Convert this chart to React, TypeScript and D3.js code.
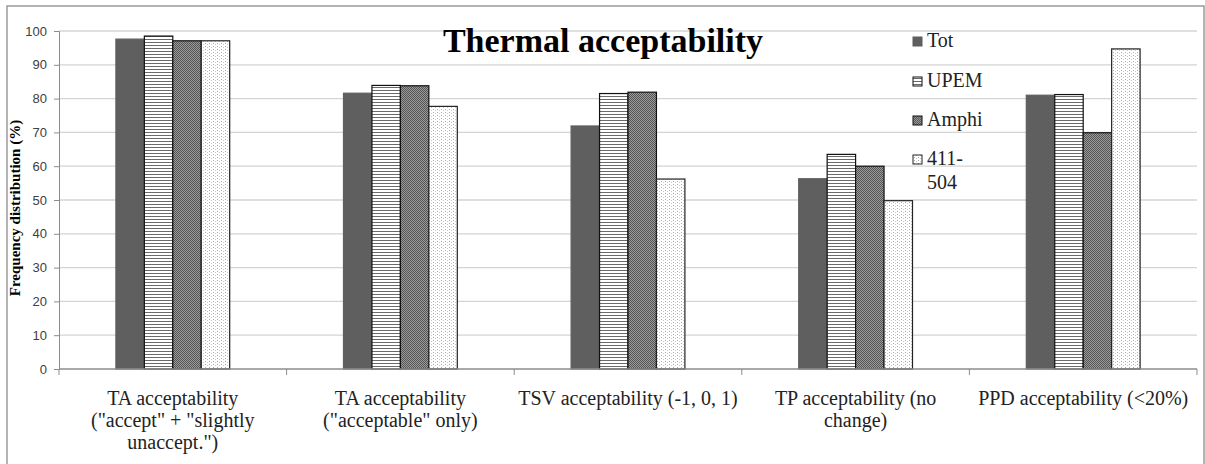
import * as d3 from "d3";
import { useEffect, useRef } from "react";

const categories = ["TA1", "TA2", "TSV", "TP", "PPD"];
const categoryLabels = [
  ["TA acceptability", '("accept" + "slightly', 'unaccept.")'],
  ["TA acceptability", '("acceptable" only)'],
  ["TSV acceptability (-1, 0, 1)"],
  ["TP acceptability (no", "change)"],
  ["PPD acceptability (<20%)"],
];
const seriesNames = ["Tot", "UPEM", "Amphi", "411-504"];
const legendLabels = [["Tot"], ["UPEM"], ["Amphi"], ["411-", "504"]];
const totValues = [97.6, 81.6, 71.9, 56.3, 81.0];
const upemValues = [98.5, 83.9, 81.5, 63.5, 81.2];
const amphiValues = [97.1, 83.8, 81.9, 60.0, 69.9];
const roomValues = [97.1, 77.7, 56.2, 49.8, 94.7];
const yTicks = [0, 10, 20, 30, 40, 50, 60, 70, 80, 90, 100];

const W = 1205;
const H = 464;
const SERIF = "'Times New Roman', 'Liberation Serif', 'DejaVu Serif', serif";

export default function App() {
  const svgRef = useRef<SVGSVGElement>(null);

  useEffect(() => {
    if (!svgRef.current) return;
    d3.select(svgRef.current).selectAll("*").remove();
    const svg = d3.select(svgRef.current);

    const left = 59;
    const right = 1197;
    const top = 31;
    const bottom = 369;

    const allSeries = [totValues, upemValues, amphiValues, roomValues];

    // Patterns for bar fills
    const defs = svg.append("defs");
    const pStripe = defs
      .append("pattern")
      .attr("id", "p-stripe")
      .attr("patternUnits", "userSpaceOnUse")
      .attr("width", 4)
      .attr("height", 3);
    pStripe.append("rect").attr("width", 4).attr("height", 3).attr("fill", "#fff");
    pStripe.append("rect").attr("width", 4).attr("height", 1).attr("fill", "#6a6a6a");

    const pCheck = defs
      .append("pattern")
      .attr("id", "p-check")
      .attr("patternUnits", "userSpaceOnUse")
      .attr("width", 2)
      .attr("height", 2);
    pCheck.append("rect").attr("width", 2).attr("height", 2).attr("fill", "#9a9a9a");
    pCheck.append("rect").attr("width", 1).attr("height", 1).attr("fill", "#555");
    pCheck.append("rect").attr("x", 1).attr("y", 1).attr("width", 1).attr("height", 1).attr("fill", "#555");

    const pDot = defs
      .append("pattern")
      .attr("id", "p-dot")
      .attr("patternUnits", "userSpaceOnUse")
      .attr("width", 4)
      .attr("height", 3);
    pDot.append("rect").attr("width", 4).attr("height", 3).attr("fill", "#fff");
    pDot.append("rect").attr("x", 1).attr("y", 1).attr("width", 1).attr("height", 1).attr("fill", "#aaa");
    pDot.append("rect").attr("x", 3).attr("y", 2).attr("width", 1).attr("height", 1).attr("fill", "#c8c8c8");

    const fills = ["#5f5f5f", "url(#p-stripe)", "url(#p-check)", "url(#p-dot)"];
    const strokes = ["#5f5f5f", "#111", "#111", "#222"];

    // outer frame
    svg
      .append("rect")
      .attr("x", 7)
      .attr("y", 6)
      .attr("width", 1197)
      .attr("height", 470)
      .attr("fill", "#fff")
      .attr("stroke", "#8c8c8c")
      .attr("stroke-width", 1.3);

    const x0 = d3.scaleBand().domain(categories).range([left, right]).paddingInner(0).paddingOuter(0);
    const x1 = d3
      .scaleBand()
      .domain(seriesNames)
      .range([x0.bandwidth() * 0.25, x0.bandwidth() * 0.75]);
    const y = d3.scaleLinear().domain([0, 100]).range([bottom, top]);

    // gridlines
    svg
      .append("g")
      .selectAll("line")
      .data(yTicks.filter((t) => t > 0))
      .enter()
      .append("line")
      .attr("x1", left)
      .attr("x2", right)
      .attr("y1", (d) => y(d))
      .attr("y2", (d) => y(d))
      .attr("stroke", "#d4d4d4")
      .attr("stroke-width", 1.3);

    // y axis
    const yAxis = svg
      .append("g")
      .attr("transform", `translate(${left},0)`)
      .call(d3.axisLeft(y).tickValues(yTicks).tickSize(5).tickPadding(7));
    yAxis.select(".domain").attr("stroke", "#8c8c8c");
    yAxis.selectAll(".tick line").attr("stroke", "#8c8c8c");
    yAxis
      .selectAll(".tick text")
      .attr("fill", "#404040")
      .attr("font-family", "'Liberation Sans', Arial, sans-serif")
      .attr("font-size", 13);

    svg
      .append("text")
      .attr("transform", `translate(20,${(top + bottom) / 2 + 8}) rotate(-90)`)
      .attr("text-anchor", "middle")
      .attr("font-family", SERIF)
      .attr("font-weight", "bold")
      .attr("font-size", 15)
      .attr("fill", "#000")
      .text("Frequency distribution (%)");

    // bars
    seriesNames.forEach((name, si) => {
      svg
        .append("g")
        .selectAll("rect")
        .data(allSeries[si])
        .enter()
        .append("rect")
        .attr("x", (_d, i) => (x0(categories[i]) as number) + (x1(name) as number))
        .attr("y", (d) => y(d))
        .attr("width", x1.bandwidth())
        .attr("height", (d) => bottom - y(d))
        .attr("fill", fills[si])
        .attr("stroke", strokes[si])
        .attr("stroke-width", 1.2);
    });

    // x axis
    const xAxis = svg.append("g").attr("transform", `translate(0,${bottom})`);
    xAxis
      .append("line")
      .attr("x1", left)
      .attr("x2", right)
      .attr("stroke", "#8c8c8c")
      .attr("stroke-width", 1.3);
    xAxis
      .selectAll("line.tick")
      .data(d3.range(categories.length + 1))
      .enter()
      .append("line")
      .attr("class", "tick")
      .attr("x1", (i) => left + i * x0.step())
      .attr("x2", (i) => left + i * x0.step())
      .attr("y1", 0)
      .attr("y2", 6)
      .attr("stroke", "#8c8c8c");

    categories.forEach((c, i) => {
      const t = svg
        .append("text")
        .attr("text-anchor", "middle")
        .style("font-family", SERIF)
        .style("font-size", "20px")
        .attr("fill", "#222");
      categoryLabels[i].forEach((line, li) => {
        t.append("tspan")
          .attr("x", (x0(c) as number) + x0.bandwidth() / 2)
          .attr("y", 405 + li * 22)
          .text(line);
      });
    });

    // title
    svg
      .append("text")
      .attr("x", 603)
      .attr("y", 52)
      .attr("text-anchor", "middle")
      .style("font-family", SERIF)
      .style("font-weight", "bold")
      .style("font-size", "34px")
      .attr("fill", "#000")
      .text("Thermal acceptability");

    // legend
    const legend = svg.append("g").attr("transform", "translate(913,0)");
    const legendY = [47, 87, 126, 165];
    seriesNames.forEach((_name, si) => {
      const g = legend.append("g").attr("transform", `translate(0,${legendY[si]})`);
      g.append("rect")
        .attr("x", 0)
        .attr("y", -10)
        .attr("width", 9)
        .attr("height", 9)
        .attr("fill", fills[si])
        .attr("stroke", strokes[si])
        .attr("stroke-width", 1);
      const t = g
        .append("text")
        .style("font-family", SERIF)
        .style("font-size", "20px")
        .attr("fill", "#222");
      legendLabels[si].forEach((line, li) => {
        t.append("tspan").attr("x", 14).attr("y", li * 24).text(line);
      });
    });
  }, []);

  return (
    <div style={{ position: "fixed", left: 0, top: 0 }}>
      <svg ref={svgRef} width={W} height={H} style={{ display: "block" }} />
    </div>
  );
}
